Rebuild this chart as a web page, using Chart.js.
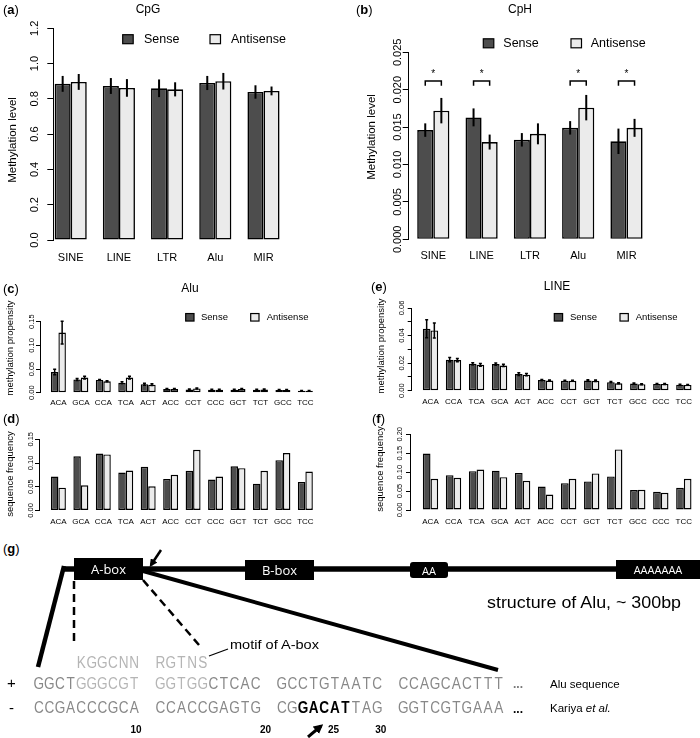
<!DOCTYPE html>
<html>
<head>
<meta charset="utf-8">
<script src="https://cdn.jsdelivr.net/npm/chart.js@4.4.1/dist/chart.umd.min.js"></script>
<style>
  body { margin: 0; background: #fff; }
  #page { position: relative; width: 700px; height: 738px; overflow: hidden; font-family: "Liberation Sans", Arial, sans-serif; }
  .panel { position: absolute; }
  .lbl { position: absolute; transform: translate(0, -50%); font-size: 13px; line-height: 1; white-space: nowrap; }
  .ttl { position: absolute; transform: translate(-50%, -50%); font-size: 12px; line-height: 1; white-space: nowrap; }
  svg { position: absolute; left: 0; top: 0; }
</style>
</head>
<body>
<div id="page">
  <div class="panel" style="left:0;top:0;width:350px;height:290px"><canvas id="chartA"></canvas></div>
  <div class="panel" style="left:350px;top:0;width:350px;height:290px"><canvas id="chartB"></canvas></div>
  <div class="panel" style="left:0;top:290px;width:350px;height:120px"><canvas id="chartC"></canvas></div>
  <div class="panel" style="left:350px;top:290px;width:350px;height:120px"><canvas id="chartE"></canvas></div>
  <div class="panel" style="left:0;top:410px;width:350px;height:120px"><canvas id="chartD"></canvas></div>
  <div class="panel" style="left:350px;top:410px;width:350px;height:120px"><canvas id="chartF"></canvas></div>

  <div class="lbl" style="left:3px;top:9px">(<b>a</b>)</div>
  <div class="lbl" style="left:356px;top:9px">(<b>b</b>)</div>
  <div class="lbl" style="left:3px;top:288px">(<b>c</b>)</div>
  <div class="lbl" style="left:371px;top:286px">(<b>e</b>)</div>
  <div class="lbl" style="left:3px;top:418px">(<b>d</b>)</div>
  <div class="lbl" style="left:372px;top:418px">(<b>f</b>)</div>
  <div class="lbl" style="left:3px;top:548px">(<b>g</b>)</div>
  <div class="ttl" style="left:148px;top:9px">CpG</div>
  <div class="ttl" style="left:520px;top:9px">CpH</div>
  <div class="ttl" style="left:190px;top:288px">Alu</div>
  <div class="ttl" style="left:557px;top:286px">LINE</div>

  <svg id="diagram" width="700" height="738" viewBox="0 0 700 738">
    <defs>
      <marker id="ah" viewBox="0 0 10 10" refX="7" refY="5" markerWidth="3.2" markerHeight="3.2" orient="auto">
        <path d="M0,0 L10,5 L0,10 z" fill="#000"/>
      </marker>
    </defs>
    <g stroke="#000" fill="none">
      <line x1="62" y1="569" x2="700" y2="569" stroke-width="5.5"/>
      <line x1="64" y1="566" x2="38" y2="667" stroke-width="4.5"/>
      <line x1="143" y1="571" x2="498" y2="670" stroke-width="4"/>
      <line x1="74" y1="581" x2="74" y2="646" stroke-width="2.5" stroke-dasharray="8,5"/>
      <line x1="143" y1="580" x2="199" y2="645" stroke-width="2.5" stroke-dasharray="8,5"/>
      <line x1="161" y1="550" x2="151" y2="565" stroke-width="2.5" marker-end="url(#ah)"/>
      <line x1="209" y1="656" x2="228" y2="649" stroke-width="1.3"/>
      <line x1="308" y1="737" x2="321" y2="726" stroke-width="3" marker-end="url(#ah)"/>
    </g>
    <g fill="#000">
      <rect x="74" y="558" width="69" height="22"/>
      <rect x="245" y="560" width="69" height="20"/>
      <rect x="410" y="562" width="38" height="16" rx="3"/>
      <rect x="616" y="560" width="84" height="19"/>
    </g>
    <g fill="#fff" font-family="'Open Sans', sans-serif" text-anchor="middle" dominant-baseline="central">
      <text x="108.5" y="569" font-size="13">A-box</text>
      <text x="279.5" y="570" font-size="13">B-box</text>
      <text x="429" y="570" font-size="11">AA</text>
      <text x="658" y="569.5" font-size="11">AAAAAAA</text>
    </g>
    <g fill="#000" font-family="'Liberation Sans', Arial, sans-serif" dominant-baseline="central">
      <text x="487" y="602" font-size="16" textLength="194" lengthAdjust="spacingAndGlyphs">structure of Alu, ~ 300bp</text>
      <text x="230" y="645" font-size="12" textLength="89" lengthAdjust="spacingAndGlyphs">motif of A-box</text>
      <text x="550" y="684" font-size="11.5">Alu sequence</text>
      <text x="550" y="708" font-size="11.5">Kariya <tspan font-style="italic">et al.</tspan></text>
      <text x="7" y="682" font-size="15">+</text>
      <text x="9" y="707" font-size="15">-</text>
      <text x="513" y="684" font-size="12" font-weight="bold" fill="#777">...</text>
      <text x="513" y="709" font-size="12" font-weight="bold">...</text>
    </g>
    <g id="seqRows"></g>
  </svg>
</div>

<script>
// panel (a) CpG, panel (b) CpH
var teCats = ['SINE', 'LINE', 'LTR', 'Alu', 'MIR'];
var cpgSense = [0.885, 0.873, 0.860, 0.890, 0.839];
var cpgSenseErr = [0.045, 0.045, 0.050, 0.040, 0.038];
var cpgAnti = [0.896, 0.862, 0.854, 0.900, 0.845];
var cpgAntiErr = [0.045, 0.050, 0.040, 0.047, 0.025];

var cphSense = [0.0146, 0.0163, 0.0133, 0.0149, 0.0131];
var cphSenseErr = [0.0009, 0.0012, 0.0009, 0.0009, 0.0017];
var cphAnti = [0.0172, 0.0130, 0.0141, 0.0176, 0.0149];
var cphAntiErr = [0.0017, 0.0010, 0.0014, 0.0017, 0.0012];
var cphSignificant = [true, true, false, true, true];

// panels (c) and (d) Alu
var aluCats = ['ACA', 'GCA', 'CCA', 'TCA', 'ACT', 'ACC', 'CCT', 'CCC', 'GCT', 'TCT', 'GCC', 'TCC'];
var aluPropSense = [0.0437, 0.028, 0.027, 0.021, 0.018, 0.0077, 0.007, 0.0063, 0.0063, 0.0063, 0.0056, 0.0042];
var aluPropSenseErr = [0.006, 0.002, 0.001, 0.002, 0.002, 0.001, 0.001, 0.001, 0.001, 0.001, 0.001, 0.0005];
var aluPropAnti = [0.127, 0.032, 0.024, 0.032, 0.017, 0.0077, 0.009, 0.0063, 0.0077, 0.007, 0.0056, 0.0042];
var aluPropAntiErr = [0.024, 0.003, 0.001, 0.003, 0.002, 0.001, 0.001, 0.001, 0.001, 0.001, 0.001, 0.0005];
var aluFreqSense = [0.0714, 0.114, 0.120, 0.080, 0.092, 0.0664, 0.0836, 0.065, 0.093, 0.0564, 0.106, 0.060];
var aluFreqAnti = [0.0479, 0.0529, 0.118, 0.084, 0.0507, 0.075, 0.128, 0.0714, 0.089, 0.0836, 0.121, 0.082];

// panels (e) and (f) LINE
var lineCats = ['ACA', 'CCA', 'TCA', 'GCA', 'ACT', 'ACC', 'CCT', 'GCT', 'TCT', 'GCC', 'CCC', 'TCC'];
var linePropSense = [0.0449, 0.0225, 0.0195, 0.0193, 0.0121, 0.0077, 0.0072, 0.0074, 0.0062, 0.0052, 0.0049, 0.0044];
var linePropSenseErr = [0.0065, 0.0015, 0.0008, 0.0008, 0.001, 0.0004, 0.0003, 0.0005, 0.0005, 0.0004, 0.0004, 0.0003];
var linePropAnti = [0.0437, 0.0222, 0.0188, 0.0183, 0.0116, 0.0074, 0.0072, 0.0072, 0.0054, 0.0047, 0.0049, 0.0042];
var linePropAntiErr = [0.0055, 0.0012, 0.001, 0.0008, 0.0008, 0.0004, 0.0003, 0.0005, 0.0004, 0.0003, 0.0004, 0.0003];
var lineFreqSense = [0.149, 0.092, 0.1026, 0.104, 0.098, 0.062, 0.071, 0.0754, 0.0886, 0.0526, 0.048, 0.0588];
var lineFreqAnti = [0.0825, 0.085, 0.107, 0.0868, 0.077, 0.041, 0.0825, 0.0965, 0.160, 0.0535, 0.0456, 0.0825];

var FONT = '"Liberation Sans", Arial, sans-serif';
var DARK = '#4d4d4d';
var LIGHT = '#ebebeb';

// extra R-like drawing: error bars, brackets, rotated y labels, axis title, legend
function rPlugin(cfg) {
  return {
    id: 'rStyle',
    afterDatasetsDraw: function (chart) {
      var ctx = chart.ctx, ys = chart.scales.y;
      ctx.save();
      ctx.strokeStyle = '#000';
      ctx.lineWidth = cfg.errWidth;
      (cfg.errors || []).forEach(function (err, k) {
        var meta = chart.getDatasetMeta(k);
        var vals = chart.data.datasets[k].data;
        meta.data.forEach(function (bar, i) {
          var y1 = ys.getPixelForValue(vals[i].y - err[i]);
          var y2 = ys.getPixelForValue(vals[i].y + err[i]);
          ctx.beginPath();
          ctx.moveTo(bar.x, y1); ctx.lineTo(bar.x, y2);
          if (cfg.cap) {
            ctx.moveTo(bar.x - cfg.cap, y1); ctx.lineTo(bar.x + cfg.cap, y1);
            ctx.moveTo(bar.x - cfg.cap, y2); ctx.lineTo(bar.x + cfg.cap, y2);
          }
          ctx.stroke();
        });
      });
      if (cfg.sig) {
        var m0 = chart.getDatasetMeta(0), m1 = chart.getDatasetMeta(1);
        var yt = ys.getPixelForValue(cfg.sig.top), yb = ys.getPixelForValue(cfg.sig.leg);
        var ystar = ys.getPixelForValue(cfg.sig.star);
        ctx.lineWidth = 1.5;
        ctx.fillStyle = '#000';
        ctx.font = '10px ' + FONT;
        ctx.textAlign = 'center';
        ctx.textBaseline = 'middle';
        cfg.sig.flags.forEach(function (on, i) {
          if (!on) return;
          var xa = m0.data[i].x, xb = m1.data[i].x;
          ctx.beginPath();
          ctx.moveTo(xa, yb); ctx.lineTo(xa, yt); ctx.lineTo(xb, yt); ctx.lineTo(xb, yb);
          ctx.stroke();
          ctx.fillText('*', (xa + xb) / 2, ystar + 2);
        });
      }
      ctx.restore();
    },
    afterDraw: function (chart) {
      var ctx = chart.ctx, ys = chart.scales.y;
      ctx.save();
      ctx.fillStyle = '#000';
      ctx.textAlign = 'center';
      ctx.textBaseline = 'middle';
      ctx.font = cfg.tickFont + 'px ' + FONT;
      ys.ticks.forEach(function (t, i) {
        if (i % (cfg.labelEvery || 1) !== 0) return;
        ctx.save();
        ctx.translate(cfg.tickX, ys.getPixelForValue(t.value));
        ctx.rotate(-Math.PI / 2);
        ctx.fillText(t.value.toFixed(cfg.dec), 0, 0);
        ctx.restore();
      });
      ctx.save();
      ctx.font = cfg.yTitle.size + 'px ' + FONT;
      ctx.translate(cfg.yTitle.x, cfg.yTitle.y);
      ctx.rotate(-Math.PI / 2);
      ctx.fillText(cfg.yTitle.text, 0, 0);
      ctx.restore();
      if (cfg.legend) {
        var lg = cfg.legend;
        ctx.font = lg.size + 'px ' + FONT;
        ctx.textAlign = 'left';
        ctx.lineWidth = 1.2;
        [[lg.x1, lg.t1, DARK, 'Sense'], [lg.x2, lg.t2, LIGHT, 'Antisense']].forEach(function (it) {
          ctx.fillStyle = it[2];
          ctx.fillRect(it[0], lg.y - lg.bh / 2, lg.bw, lg.bh);
          ctx.strokeRect(it[0], lg.y - lg.bh / 2, lg.bw, lg.bh);
          ctx.fillStyle = '#000';
          ctx.fillText(it[3], it[1], lg.y + 0.5);
        });
      }
      ctx.restore();
    }
  };
}

function barChart(id, cfg) {
  var xMin = 1 - (cfg.firstCenter - cfg.axisX) / cfg.pitch;
  var right = cfg.axisX + (cfg.xMax - xMin) * cfg.pitch;
  var XH = 24;
  var toPoints = function (arr) { return arr.map(function (v, i) { return { x: i + 1, y: v }; }); };
  var barOpts = { borderColor: '#000', borderWidth: cfg.bw, borderSkipped: false, categoryPercentage: 2 / 3, barPercentage: 1 };
  return new Chart(document.getElementById(id), {
    type: 'bar',
    data: {
      datasets: [
        Object.assign({ label: 'Sense', data: toPoints(cfg.sense), backgroundColor: DARK }, barOpts),
        Object.assign({ label: 'Antisense', data: toPoints(cfg.anti), backgroundColor: LIGHT }, barOpts)
      ]
    },
    options: {
      responsive: true,
      maintainAspectRatio: false,
      animation: false,
      layout: { padding: { left: 0, top: cfg.top, right: cfg.W - right, bottom: cfg.H - cfg.bottom - XH } },
      plugins: { legend: { display: false }, tooltip: { enabled: false } },
      scales: {
        x: {
          type: 'linear', min: xMin, max: cfg.xMax, offset: false,
          grid: { display: false, drawTicks: false },
          border: { display: false },
          ticks: {
            stepSize: 1, includeBounds: false, autoSkip: false, maxRotation: 0, minRotation: 0,
            padding: cfg.xPad, color: '#000', font: { family: FONT, size: cfg.xFont },
            callback: function (v) { return cfg.cats[v - 1] || ''; }
          },
          afterFit: function (s) { s.height = XH; s.paddingLeft = 0; s.paddingRight = 0; }
        },
        y: {
          min: 0, max: cfg.yMax,
          grid: { display: true, drawOnChartArea: false, drawTicks: true, tickLength: cfg.tickLen, color: '#000', lineWidth: 1 },
          border: { display: true, color: '#000', width: 1 },
          ticks: { display: false, stepSize: cfg.yStep },
          afterFit: function (s) { s.width = cfg.axisX; s.paddingTop = 0; s.paddingBottom = 0; }
        }
      }
    },
    plugins: [rPlugin(cfg)]
  });
}

var bigLegend = { bw: 10.5, bh: 9, size: 12.5 };
var smallLegend = { bw: 8.3, bh: 7.5, size: 9.5 };

barChart('chartA', {
  W: 350, H: 290, axisX: 53.3, firstCenter: 70.7, pitch: 48.2, xMax: 5.36, top: 28.3, bottom: 240,
  cats: teCats, sense: cpgSense, anti: cpgAnti, errors: [cpgSenseErr, cpgAntiErr],
  yMax: 1.2, yStep: 0.2, dec: 1, tickX: 35, tickFont: 11, tickLen: 6, xFont: 11, xPad: 11,
  bw: 1.6, errWidth: 2, cap: 0,
  yTitle: { text: 'Methylation level', x: 13, y: 140, size: 11.5 },
  legend: Object.assign({ x1: 122.7, t1: 144, x2: 210, t2: 231, y: 39.2 }, bigLegend)
});

barChart('chartB', {
  W: 350, H: 290, axisX: 58.7, firstCenter: 83.3, pitch: 48.3, xMax: 5.36, top: 52.3, bottom: 239.3,
  cats: teCats, sense: cphSense, anti: cphAnti, errors: [cphSenseErr, cphAntiErr],
  yMax: 0.025, yStep: 0.005, dec: 3, tickX: 48.3, tickFont: 11, tickLen: 6, xFont: 11, xPad: 10,
  bw: 1.6, errWidth: 2, cap: 0,
  sig: { flags: cphSignificant, top: 0.02116, leg: 0.02053, star: 0.0223 },
  yTitle: { text: 'Methylation level', x: 21.7, y: 137, size: 11.5 },
  legend: Object.assign({ x1: 133.3, t1: 153.3, x2: 221, t2: 240.7, y: 43.3 }, bigLegend)
});

barChart('chartC', {
  W: 350, H: 120, axisX: 40, firstCenter: 58.4, pitch: 22.45, xMax: 12.45, top: 31.7, bottom: 102.7,
  cats: aluCats, sense: aluPropSense, anti: aluPropAnti, errors: [aluPropSenseErr, aluPropAntiErr],
  yMax: 0.15, yStep: 0.05, dec: 2, tickX: 31.7, tickFont: 7.5, tickLen: 4, xFont: 8, xPad: 5,
  bw: 1.4, errWidth: 1.5, cap: 1.5,
  yTitle: { text: 'methylation propensity', x: 10, y: 58, size: 9.5 },
  legend: Object.assign({ x1: 185.7, t1: 201, x2: 250.7, t2: 266.7, y: 27.3 }, smallLegend)
});

barChart('chartD', {
  W: 350, H: 120, axisX: 39, firstCenter: 58.4, pitch: 22.45, xMax: 12.45, top: 29.3, bottom: 100.4,
  cats: aluCats, sense: aluFreqSense, anti: aluFreqAnti,
  yMax: 0.15, yStep: 0.05, dec: 2, tickX: 31, tickFont: 7.5, tickLen: 4, xFont: 8, xPad: 7,
  bw: 1.4, errWidth: 1.5, cap: 0,
  yTitle: { text: 'sequence frequency', x: 10, y: 64, size: 9.5 }
});

barChart('chartE', {
  W: 350, H: 120, axisX: 61.7, firstCenter: 80.5, pitch: 23.03, xMax: 12.36, top: 18, bottom: 100.7,
  cats: lineCats, sense: linePropSense, anti: linePropAnti, errors: [linePropSenseErr, linePropAntiErr],
  yMax: 0.06, yStep: 0.01, dec: 2, labelEvery: 2, tickX: 51.7, tickFont: 7.5, tickLen: 4, xFont: 8, xPad: 6.5,
  bw: 1.4, errWidth: 1.5, cap: 1.5,
  yTitle: { text: 'methylation propensity', x: 31.7, y: 56, size: 9.5 },
  legend: Object.assign({ x1: 204.3, t1: 220, x2: 270, t2: 285.7, y: 27.3 }, smallLegend)
});

barChart('chartF', {
  W: 350, H: 120, axisX: 60, firstCenter: 80.5, pitch: 23.03, xMax: 12.36, top: 24.3, bottom: 100,
  cats: lineCats, sense: lineFreqSense, anti: lineFreqAnti,
  yMax: 0.2, yStep: 0.05, dec: 2, tickX: 50, tickFont: 7.5, tickLen: 4, xFont: 8, xPad: 7,
  bw: 1.4, errWidth: 1.5, cap: 0,
  yTitle: { text: 'sequence frequency', x: 30, y: 59, size: 9.5 }
});

// panel (g) sequence rows, one letter per slot; '_' is an empty slot
var motifRow = [['____KGGCNN RGTNS', '#b5b5b5', 'normal']];
var plusRow = [['GGCT', '#888', 'normal'], ['GGGCGT GGTGG', '#b5b5b5', 'normal'], ['CTCAC GCCTGTAATC CCAGCACTTT', '#888', 'normal']];
var minusRow = [['CCGACCCGCA CCACCGAGTG CG', '#888', 'normal'], ['GACAT', '#000', 'bold'], ['TAG GGTCGTGAAA', '#888', 'normal']];
var positionMarks = [['10', 136], ['20', 265.5], ['25', 333.5], ['30', 380.7]];

(function drawSequences() {
  var NS = 'http://www.w3.org/2000/svg';
  var host = document.getElementById('seqRows');
  var charW = 10.6, gap = 15.5, x0 = 33.5, squeeze = 0.8;
  function makeText(txt, x, y, size, color, weight) {
    var t = document.createElementNS(NS, 'text');
    t.setAttribute('x', x); t.setAttribute('y', y);
    t.setAttribute('font-size', size); t.setAttribute('fill', color);
    t.setAttribute('font-weight', weight);
    t.setAttribute('font-family', "'Liberation Sans', Arial, sans-serif");
    t.setAttribute('text-anchor', 'middle');
    t.setAttribute('dominant-baseline', 'central');
    t.textContent = txt;
    return t;
  }
  function row(segments, y, size) {
    var block = 0, slot = 0;
    var g = document.createElementNS(NS, 'g');
    g.setAttribute('transform', 'scale(' + squeeze + ',1)');
    host.appendChild(g);
    segments.forEach(function (seg) {
      for (var i = 0; i < seg[0].length; i++) {
        var ch = seg[0][i];
        if (ch === ' ') { block++; slot = 0; continue; }
        if (ch !== '_') {
          var cx = x0 + block * (10 * charW + gap) + (slot + 0.5) * charW;
          g.appendChild(makeText(ch, cx / squeeze, y, size, seg[1], seg[2]));
        }
        slot++;
      }
    });
  }
  row(motifRow, 662, 17);
  row(plusRow, 683, 17);
  row(minusRow, 707, 17);
  positionMarks.forEach(function (p) {
    host.appendChild(makeText(p[0], p[1], 729, 10, '#000', 'bold'));
  });
})();
</script>
</body>
</html>
